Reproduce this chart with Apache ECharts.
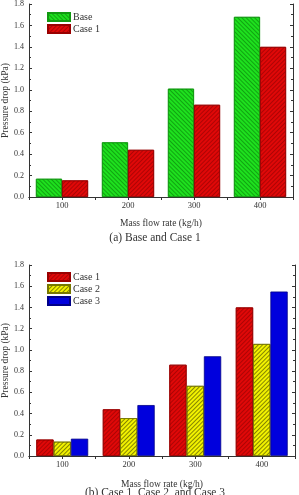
<!DOCTYPE html>
<html>
<head>
<meta charset="utf-8">
<script src="https://cdn.jsdelivr.net/npm/echarts@6/dist/echarts.min.js"></script>
<style>
  html, body { margin: 0; padding: 0; background: #fff; }
  #chart { width: 299px; height: 495px; }
</style>
</head>
<body>
<div id="chart"></div>
<script>
const categories = ["100", "200", "300", "400"];
const yTicks = [0, 0.2, 0.4, 0.6, 0.8, 1.0, 1.2, 1.4, 1.6, 1.8];

// (a) Base vs Case 1
const baseValues = [0.17, 0.51, 1.01, 1.68];
const case1Values = [0.155, 0.44, 0.86, 1.40];
// (b) Case 1, Case 2, Case 3
const case2Values = [0.135, 0.357, 0.661, 1.056];
const case3Values = [0.163, 0.48, 0.94, 1.55];

const FONT = "Liberation Serif";
const chart = echarts.init(document.getElementById("chart"));

const hatch = (rot, color) => ({
  symbol: "rect",
  symbolSize: 1,
  dashArrayX: [1, 0],
  dashArrayY: [1, 2],
  rotation: rot,
  color: color,
});

const styles = {
  Base: { color: "#1ee01e", borderColor: "#119911", decal: hatch(Math.PI / 4, "rgba(0,90,0,0.45)") },
  "Case 1": { color: "#e00808", borderColor: "#990000", decal: hatch(-Math.PI / 4, "rgba(110,0,0,0.45)") },
  "Case 2": { color: "#f2f200", borderColor: "#777700", decal: hatch(-Math.PI / 4, "rgba(60,60,0,0.6)") },
  "Case 3": { color: "#0000dd", borderColor: "#000088" },
};

const grids = [
  { left: 29, top: 4, width: 264, height: 193, outerBoundsMode: "none", containLabel: false },
  { left: 29, top: 265, width: 266, height: 191, outerBoundsMode: "none", containLabel: false },
];
const xNameGaps = [21, 23];

const xAxes = [];
const yAxes = [];
grids.forEach((g, i) => {
  xAxes.push({
    type: "category",
    gridIndex: i,
    data: categories,
    axisLine: { lineStyle: { color: "#333", width: 1 } },
    axisTick: { inside: true, length: 3, lineStyle: { color: "#333" } },
    axisLabel: { fontFamily: FONT, fontSize: 8.5, color: "#333", margin: 4 },
    name: "Mass flow rate (kg/h)",
    nameLocation: "middle",
    nameGap: xNameGaps[i],
    nameMoveOverlap: false,
    nameTextStyle: { fontFamily: FONT, fontSize: 9.5, color: "#333" },
  });
  xAxes.push({
    type: "value",
    gridIndex: i,
    position: "top",
    min: 0,
    max: 8,
    interval: 1,
    axisLine: { show: true, lineStyle: { color: "#333" } },
    axisTick: { show: true, inside: true, length: 3, lineStyle: { color: "#333" } },
    axisLabel: { show: false },
    splitLine: { show: false },
  });
  yAxes.push({
    type: "value",
    gridIndex: i,
    min: yTicks[0],
    max: yTicks[yTicks.length - 1],
    interval: 0.2,
    axisLine: { show: true, lineStyle: { color: "#333" } },
    axisTick: { show: true, inside: true, length: 3, lineStyle: { color: "#333" } },
    minorTick: { show: true, splitNumber: 2, length: 2, lineStyle: { color: "#333" } },
    axisLabel: { fontFamily: FONT, fontSize: 8, color: "#333", margin: 5, formatter: (v) => v.toFixed(1) },
    splitLine: { show: false },
    name: "Pressure drop (kPa)",
    nameLocation: "middle",
    nameGap: 19,
    nameMoveOverlap: false,
    nameTextStyle: { fontFamily: FONT, fontSize: 9.5, color: "#333" },
  });
  yAxes.push({
    type: "value",
    gridIndex: i,
    position: "right",
    min: yTicks[0],
    max: yTicks[yTicks.length - 1],
    interval: 0.2,
    axisLine: { show: true, lineStyle: { color: "#333" } },
    axisTick: { show: true, inside: true, length: 3, lineStyle: { color: "#333" } },
    minorTick: { show: true, splitNumber: 2, length: 2, lineStyle: { color: "#333" } },
    axisLabel: { show: false },
    splitLine: { show: false },
  });
});

const bar = (name, data, gi, gap) => ({
  name: name,
  type: "bar",
  xAxisIndex: gi * 2,
  yAxisIndex: gi * 2,
  data: data,
  barGap: "0%",
  barCategoryGap: gap,
  itemStyle: Object.assign({ borderWidth: 0.8 }, styles[name]),
});

const series = [
  bar("Base", baseValues, 0, "21%"),
  bar("Case 1", case1Values, 0, "21%"),
  bar("Case 1", case1Values, 1, "22%"),
  bar("Case 2", case2Values, 1, "22%"),
  bar("Case 3", case3Values, 1, "22%"),
];

const legendCommon = {
  orient: "vertical",
  padding: 0,
  itemWidth: 22,
  itemHeight: 8,
  itemGap: 0,
  icon: "rect",
  textStyle: { fontFamily: FONT, fontSize: 10, lineHeight: 12, color: "#333", padding: [0, 0, 0, -2] },
};

chart.setOption({
  animation: false,
  grid: grids,
  xAxis: xAxes,
  yAxis: yAxes,
  legend: [
    Object.assign({ left: 47, top: 11, data: ["Base", "Case 1"] }, legendCommon),
    Object.assign({ left: 47, top: 271, data: ["Case 1", "Case 2", "Case 3"] }, legendCommon),
  ],
  title: [
    {
      text: "(a) Base and Case 1",
      left: 150,
      top: 227,
      textAlign: "center",
      textStyle: { fontFamily: FONT, fontSize: 11.5, fontWeight: "normal", color: "#333" },
    },
    {
      text: "(b) Case 1, Case 2, and Case 3",
      left: 150,
      top: 482,
      textAlign: "center",
      textStyle: { fontFamily: FONT, fontSize: 11.5, fontWeight: "normal", color: "#333" },
    },
  ],
  series: series,
});
</script>
</body>
</html>
